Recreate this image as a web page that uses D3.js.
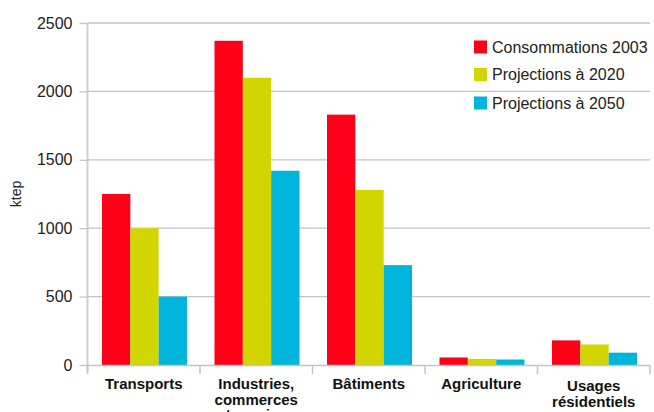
<!DOCTYPE html>
<html><head><meta charset="utf-8">
<script src="https://cdn.jsdelivr.net/npm/d3@7"></script>
<style>body{margin:0;background:#fff}svg{display:block}</style>
</head><body>
<script>
const categories = [["Transports"],["Industries,","commerces","et services"],["Bâtiments"],["Agriculture"],["Usages","résidentiels"]];
const seriesNames = ["Consommations 2003","Projections à 2020","Projections à 2050"];
const conso2003 = [1250, 2370, 1830, 55, 180];
const proj2020 = [1000, 2100, 1280, 45, 150];
const proj2050 = [500, 1420, 730, 40, 90];
const yTicks = [0, 500, 1000, 1500, 2000, 2500];
const colors = ["#ff0019", "#d2d500", "#00b5dc"];
const series = [conso2003, proj2020, proj2050];

(function () {
const W = 654, H = 412;
const svg = d3.select("body").append("svg").attr("width", W).attr("height", H);
const mLeft = 87.5, mRight = 650, mTop = 23, mBottom = 365;
const x = d3.scaleBand().domain(d3.range(categories.length)).range([mLeft, mRight]).padding(0);
const x1 = d3.scaleBand().domain(d3.range(series.length)).range([14.5, 99.5]).padding(0);
const y = d3.scaleLinear().domain([0, 2500]).range([mBottom, mTop]);

// gridlines
svg.append("g").selectAll("line").data(yTicks.filter(d => d > 0)).join("line")
  .attr("x1", mLeft).attr("x2", mRight).attr("y1", d => y(d)).attr("y2", d => y(d))
  .attr("stroke", "#c4c4c4").attr("stroke-width", 1.3);

// y axis
const yAxis = svg.append("g").attr("transform", `translate(${mLeft},0)`)
  .call(d3.axisLeft(y).tickValues(yTicks).tickSize(8).tickPadding(7).tickFormat(d3.format("d")));
yAxis.select(".domain").attr("stroke", "#cfcfcf").attr("stroke-width", 2).attr("d", `M0,${mTop}V${mBottom+7}`);
yAxis.selectAll(".tick line").attr("stroke", "#c4c4c4").attr("stroke-width", 1.3);
yAxis.selectAll(".tick text").attr("font-family", "Liberation Sans, Arial, sans-serif").attr("font-size", 16).attr("fill", "#222");

svg.append("text").attr("transform", `translate(21,194) rotate(-90)`).attr("text-anchor", "middle")
  .attr("font-family", "Liberation Sans, Arial, sans-serif").attr("font-size", 14).attr("fill", "#222").text("ktep");

// bars
const g = svg.append("g");
series.forEach((s, si) => {
  g.append("g").selectAll("rect").data(s).join("rect")
    .attr("x", (d, i) => x(i) + x1(si)).attr("width", x1.bandwidth())
    .attr("y", d => y(d)).attr("height", d => y(0) - y(d)).attr("fill", colors[si]);
});

// x axis
svg.append("line").attr("x1", mLeft).attr("x2", mRight).attr("y1", mBottom + 0.5).attr("y2", mBottom + 0.5)
  .attr("stroke", "#c4c4c4").attr("stroke-width", 1.5);
const bounds = d3.range(categories.length + 1).map(i => i < categories.length ? x(i) : mRight);
svg.append("g").selectAll("line").data(bounds).join("line")
  .attr("x1", d => d).attr("x2", d => d).attr("y1", mBottom).attr("y2", mBottom + 9)
  .attr("stroke", "#c4c4c4").attr("stroke-width", 1.5);
const lab = svg.append("g").selectAll("text").data(categories).join("text")
  .attr("text-anchor", "middle").attr("font-family", "Liberation Sans, Arial, sans-serif")
  .attr("font-weight", "bold").attr("font-size", 15).attr("fill", "#111")
  .attr("transform", (d, i) => `translate(${x(i) + x.bandwidth() / 2},${d.length === 2 ? 391 : 389})`);
lab.selectAll("tspan").data(d => d).join("tspan").attr("x", 0).attr("dy", (d, i) => i === 0 ? 0 : 15.5).text(d => d);

// legend
const leg = svg.append("g").selectAll("g").data(seriesNames).join("g")
  .attr("transform", (d, i) => `translate(474,${[47, 74.5, 103][i]})`);
leg.append("rect").attr("x", 0).attr("y", -6.5).attr("width", 13).attr("height", 13).attr("fill", (d, i) => colors[i]);
leg.append("text").attr("x", 18).attr("y", 5.5).attr("font-family", "Liberation Sans, Arial, sans-serif")
  .attr("font-size", 16).attr("fill", "#222").text(d => d);
})();
</script>
</body></html>
